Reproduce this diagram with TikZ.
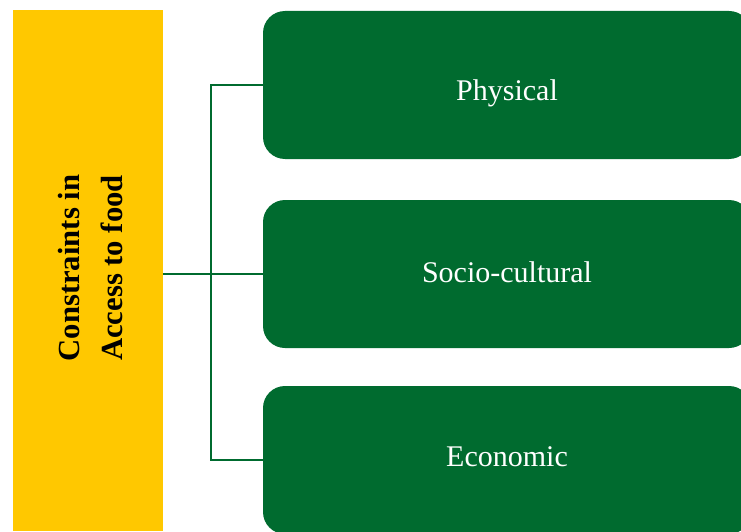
\documentclass[tikz,border=0pt]{standalone}
\usepackage{fontspec}
\setmainfont{Liberation Serif}
\definecolor{boxgreen}{RGB}{0,107,47}
\definecolor{boxyellow}{RGB}{255,200,0}
\begin{document}
\begin{tikzpicture}[x=0.75pt,y=-0.75pt,
  catbox/.style={fill=boxgreen, draw=none, rounded corners=16.5pt, minimum width=366pt, minimum height=111pt, inner sep=0pt},
  cattext/.style={text=white, font=\fontsize{22.5}{26}\selectfont, anchor=base, inner sep=0pt},
  titletext/.style={font=\bfseries\fontsize{23}{27}\selectfont, rotate=90, anchor=base, inner sep=0pt},
  conn/.style={draw=boxgreen, line width=1.4pt}]
\useasboundingbox (0,0) rectangle (741,531);
\clip (0,0) rectangle (741,531);
\node[fill=boxyellow, minimum width=112.5pt, minimum height=390.75pt, inner sep=0pt] (yel) at (88,270.5) {};
\node[titletext] (tl1) at (79,268) {Constraints in};
\node[titletext] (tl2) at (122,268) {Access to food};
\node[catbox] (b1) at (507,85) {};
\node[catbox] (b2) at (507,274) {};
\node[catbox] (b3) at (507,460) {};
\node[cattext] (t1) at (507,100.7) {Physical};
\node[cattext] (t2) at (507,282) {Socio-cultural};
\node[cattext] (t3) at (507,466.7) {Economic};
\draw[conn] (yel.east |- b2.west) -- (b2.west);
\draw[conn] (b1.west) -- ++(-52,0) |- (b3.west);
\end{tikzpicture}
\end{document}
